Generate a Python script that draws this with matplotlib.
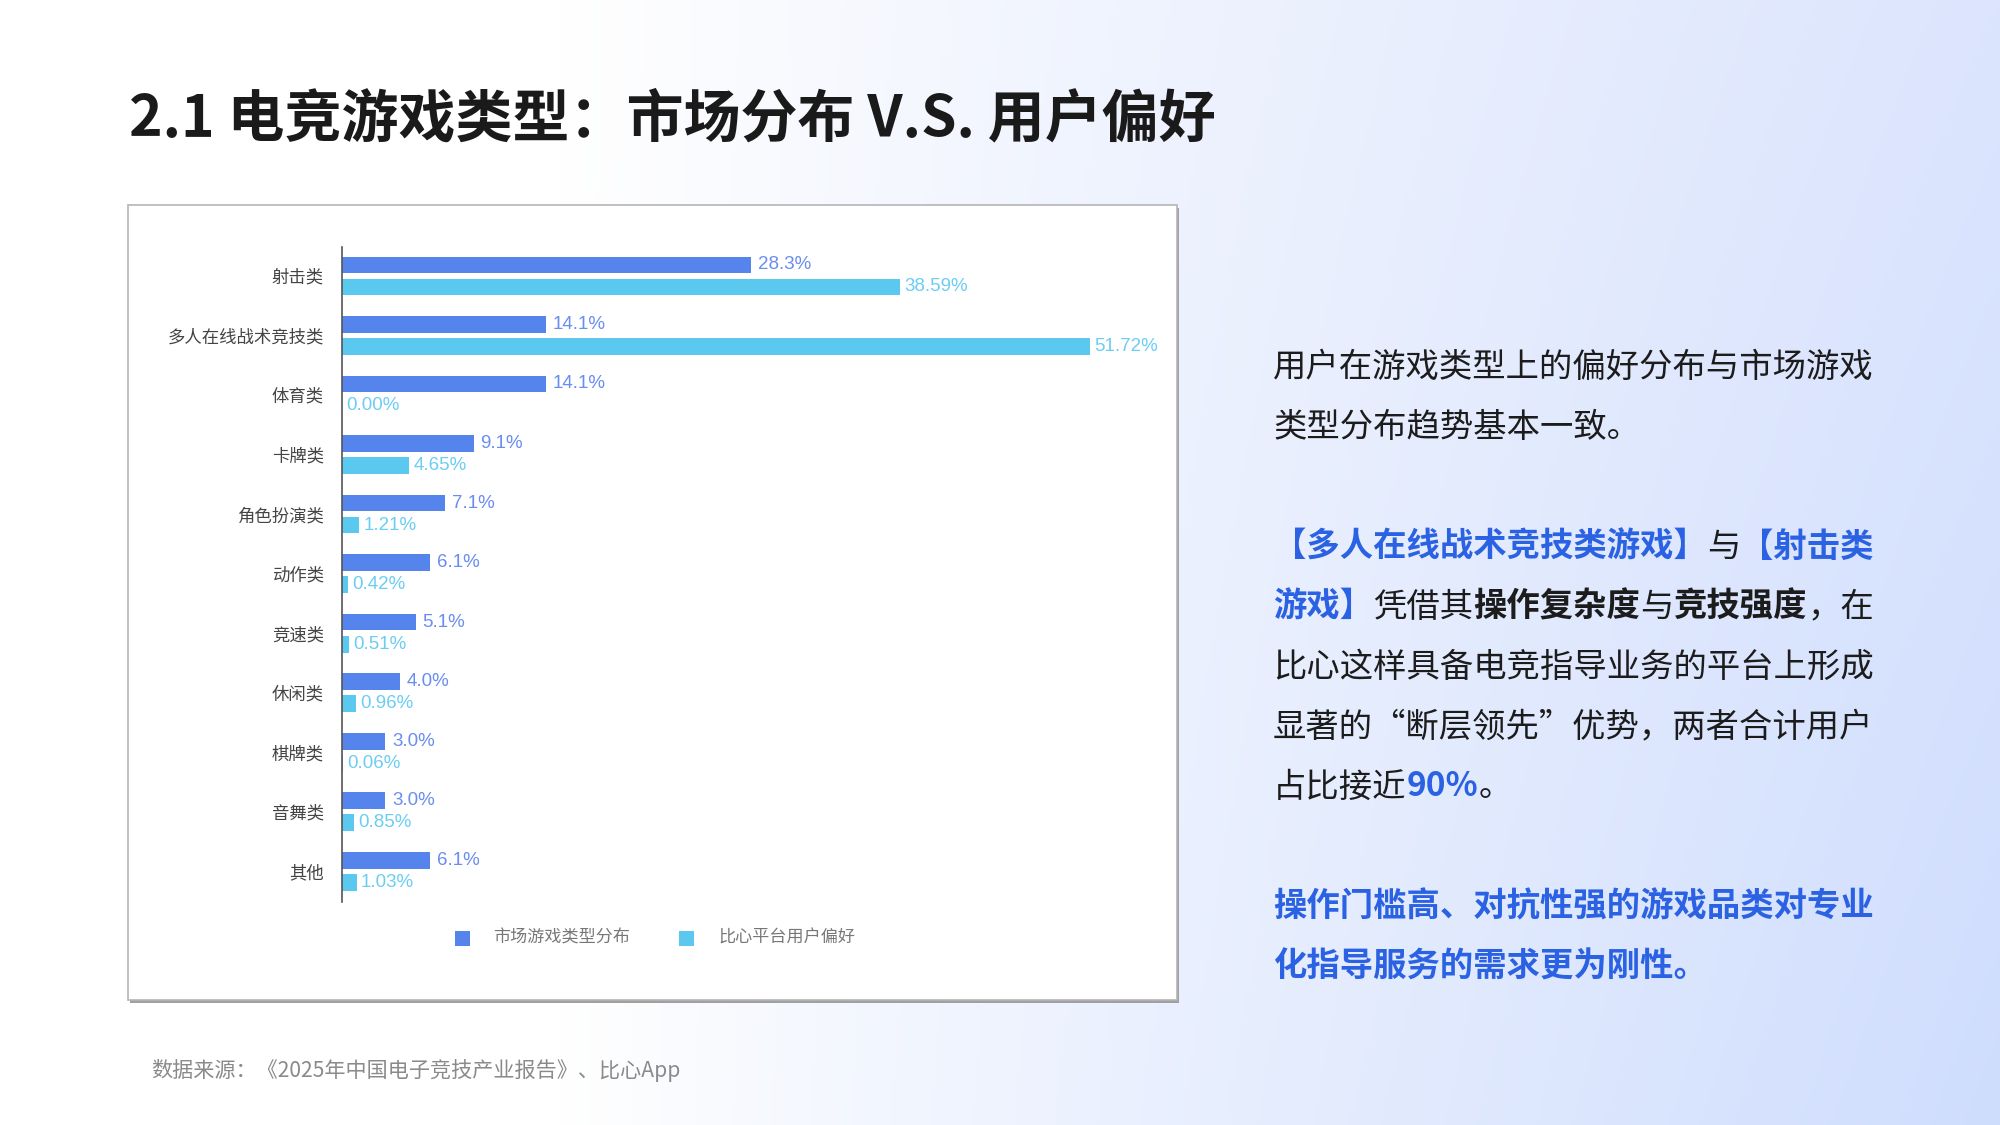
import numpy as np
import matplotlib
matplotlib.use("Agg")
import matplotlib.pyplot as plt
from matplotlib.patches import Rectangle

plt.rcParams['font.family'] = ['Noto Sans CJK SC', 'DejaVu Sans']

# 数据
categories = ['射击类', '多人在线战术竞技类', '体育类', '卡牌类', '角色扮演类', '动作类',
              '竞速类', '休闲类', '棋牌类', '音舞类', '其他']
market = [28.3, 14.1, 14.1, 9.1, 7.1, 6.1, 5.1, 4.0, 3.0, 3.0, 6.1]
user = [38.59, 51.72, 0.00, 4.65, 1.21, 0.42, 0.51, 0.96, 0.06, 0.85, 1.03]
series_names = ['市场游戏类型分布', '比心平台用户偏好']

title = '2.1 电竞游戏类型：市场分布 V.S. 用户偏好'
source = '数据来源：《2025年中国电子竞技产业报告》、比心App'

BLUE_TXT = '#2b62e3'
BLACK = '#1c1c1c'
# 右侧文字: (文字, 颜色, 粗体)
text_lines = [
    [('用户在游戏类型上的偏好分布与市场游戏', BLACK, False)],
    [('类型分布趋势基本一致。', BLACK, False)],
    None,
    [('【多人在线战术竞技类游戏】', BLUE_TXT, True), ('与', BLACK, False), ('【射击类', BLUE_TXT, True)],
    [('游戏】', BLUE_TXT, True), ('凭借其', BLACK, False), ('操作复杂度', BLACK, True),
     ('与', BLACK, False), ('竞技强度', BLACK, True), ('，在', BLACK, False)],
    [('比心这样具备电竞指导业务的平台上形成', BLACK, False)],
    [('显著的“断层领先”优势，两者合计用户', BLACK, False)],
    [('占比接近', BLACK, False), ('90%', BLUE_TXT, True), ('。', BLACK, False)],
    None,
    [('操作门槛高、对抗性强的游戏品类对专业', BLUE_TXT, True)],
    [('化指导服务的需求更为刚性。', BLUE_TXT, True)],
]

W, H = 2000, 1125
fig = plt.figure(figsize=(20, 11.25), dpi=100)

# 背景渐变
bg = fig.add_axes([0, 0, 1, 1], zorder=-10)
xx, yy = np.meshgrid(np.linspace(0, 1, 400), np.linspace(0, 1, 225))
t = np.clip((xx - 0.28) / 0.72, 0, 1) ** 0.9
top_c = np.array([0xdc, 0xe5, 0xfd]) / 255
bot_c = np.array([0xcf, 0xdd, 0xfd]) / 255
c_right = top_c[None, None, :] * (1 - yy[..., None]) + bot_c[None, None, :] * yy[..., None]
img = np.ones((225, 400, 3)) * (1 - t[..., None]) + c_right * t[..., None]
bg.imshow(img, aspect='auto', extent=[0, 1, 1, 0])
bg.axis('off')

# 图表白框 + 阴影
bx0, by0, bx1, by1 = 128, 205, 1177, 1000
fig.patches.append(Rectangle(((bx0 + 2) / W, 1 - (by1 + 3) / H), (bx1 - bx0) / W, (by1 - by0) / H,
                             transform=fig.transFigure, facecolor='#a0a0a0', edgecolor='none', zorder=0))
fig.patches.append(Rectangle((bx0 / W, 1 - by1 / H), (bx1 - bx0) / W, (by1 - by0) / H,
                             transform=fig.transFigure, facecolor='white', edgecolor='#b5b5b5',
                             linewidth=1.2, zorder=1))

# 条形图
ax = fig.add_axes([342 / W, 1 - 901.7 / H, 795 / W, 655 / H], zorder=2)
ax.patch.set_alpha(0)
y = np.arange(len(categories))
c_market, c_user = '#5584ec', '#5bc8f0'
ax.barh(y - 0.185, market, height=0.28, color=c_market, label=series_names[0])
ax.barh(y + 0.185, user, height=0.28, color=c_user, label=series_names[1])
for i in range(len(categories)):
    ax.annotate(f'{market[i]:.1f}%', (market[i], y[i] - 0.185), xytext=(5, 0), textcoords='offset points',
                va='center', ha='left', fontsize=13.5, color='#6a8df0', family='Liberation Sans')
    ax.annotate(f'{user[i]:.2f}%', (user[i], y[i] + 0.185), xytext=(3, 0), textcoords='offset points',
                va='center', ha='left', fontsize=13.5, color='#6ccdf3', family='Liberation Sans')
ax.set_xlim(0, 55)
ax.set_ylim(10.51, -0.49)
ax.set_yticks(y)
ax.set_yticklabels(categories, fontsize=12.5, color='#444444')
ax.tick_params(axis='y', length=0, pad=13)
ax.set_xticks([])
for s in ['top', 'right', 'bottom']:
    ax.spines[s].set_visible(False)
ax.spines['left'].set_color('#555555')
ax.spines['left'].set_linewidth(1.2)

# 图例
for sx, tx, col, name in [(455, 493, c_market, series_names[0]), (679, 718, c_user, series_names[1])]:
    fig.patches.append(Rectangle((sx / W, 1 - 945.5 / H), 15 / W, 15 / H, transform=fig.transFigure,
                                 facecolor=col, edgecolor='none', zorder=3))
    fig.text(tx / W, 1 - 938 / H, name, fontsize=12.3, color='#777777', va='center', ha='left', zorder=3)

# 标题
fig.text(129 / W, 1 - 119 / H, title, fontsize=41, fontweight='bold', color='#1a1a1a',
         va='center', ha='left')

# 右侧说明文字
renderer = fig.canvas.get_renderer()
line_y = 367
for line in text_lines:
    if line is None:
        line_y += 60
        continue
    x = 1273
    for seg, col, bold in line:
        tt = fig.text(x / W, 1 - line_y / H, seg, fontsize=24, color=col,
                      fontweight='bold' if bold else 'normal', va='center', ha='left')
        x += tt.get_window_extent(renderer).width
    line_y += 60

# 数据来源
fig.text(151 / W, 1 - 1070 / H, source, fontsize=15.2, color='#8a8a8a', style='italic',
         va='center', ha='left')

fig.savefig('out.png', dpi=100)
